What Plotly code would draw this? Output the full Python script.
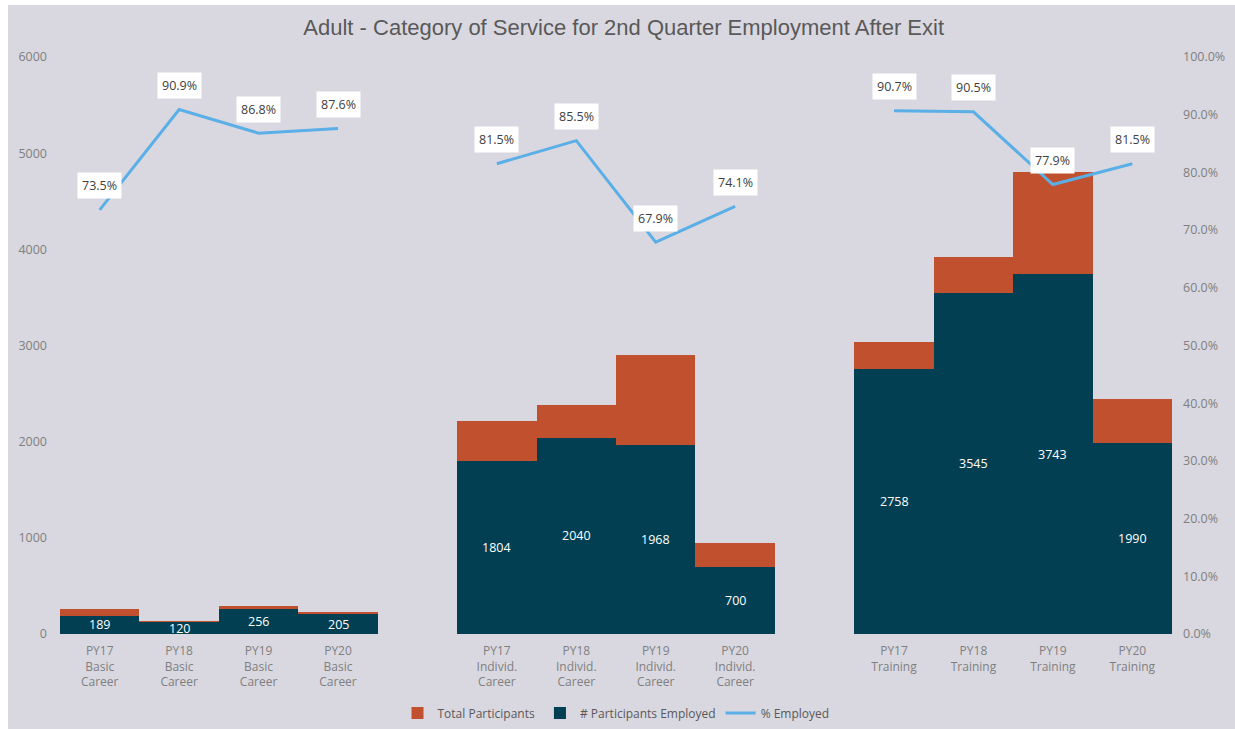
import plotly.graph_objects as go

labels = ["PY17<br>Basic<br>Career", "PY18<br>Basic<br>Career", "PY19<br>Basic<br>Career", "PY20<br>Basic<br>Career",
          "PY17<br>Individ.<br>Career", "PY18<br>Individ.<br>Career", "PY19<br>Individ.<br>Career", "PY20<br>Individ.<br>Career",
          "PY17<br>Training", "PY18<br>Training", "PY19<br>Training", "PY20<br>Training"]
positions = [0, 1, 2, 3, 5, 6, 7, 8, 10, 11, 12, 13]
employed = [189, 120, 256, 205, 1804, 2040, 1968, 700, 2758, 3545, 3743, 1990]
total = [257, 132, 295, 234, 2213, 2386, 2898, 945, 3041, 3917, 4805, 2442]
pct = [0.735, 0.909, 0.868, 0.876, 0.815, 0.855, 0.679, 0.741, 0.907, 0.905, 0.779, 0.815]
pct_labels = ["73.5%", "90.9%", "86.8%", "87.6%", "81.5%", "85.5%", "67.9%", "74.1%", "90.7%", "90.5%", "77.9%", "81.5%"]

ORANGE = "#c0502e"
DARK = "#023f53"
BLUE = "#5aafe6"
BG = "#d9d8e0"
FONT = "Open Sans"

fig = go.Figure()
fig.add_trace(go.Bar(x=positions, y=total, name="Total Participants", marker=dict(color=ORANGE, line=dict(width=0)),
                     width=1.0, hoverinfo="skip"))
fig.add_trace(go.Bar(x=positions, y=employed, name="# Participants Employed", marker=dict(color=DARK, line=dict(width=0)),
                     width=1.0, hoverinfo="skip"))

# line with breaks between groups
lx, ly = [], []
for i, (p, v) in enumerate(zip(positions, pct)):
    if i > 0 and p - positions[i - 1] > 1:
        lx.append(None)
        ly.append(None)
    lx.append(p)
    ly.append(v)
fig.add_trace(go.Scatter(x=lx, y=ly, name="% Employed", mode="lines", line=dict(color=BLUE, width=3),
                         yaxis="y2", connectgaps=False))

annotations = []
for p, e in zip(positions, employed):
    annotations.append(dict(x=p, y=e / 2, xref="x", yref="y", text=str(e), showarrow=False,
                            font=dict(color="white", size=12.5, family=FONT)))
for p, v, t in zip(positions, pct, pct_labels):
    annotations.append(dict(x=p, y=v, xref="x", yref="y2", text=t, showarrow=False, yshift=24,
                            bgcolor="white", borderpad=4,
                            font=dict(color="#404040", size=12.5, family=FONT)))

fig.update_layout(
    width=1235, height=729,
    paper_bgcolor=BG, plot_bgcolor=BG,
    margin=dict(l=60, r=63, t=57, b=95, autoexpand=False),
    barmode="overlay", bargap=0,
    title=dict(text="Adult - Category of Service for 2nd Quarter Employment After Exit", x=0.505, xanchor="center",
               y=0.962, yanchor="middle", font=dict(family="Liberation Sans", size=22, color="#595959")),
    xaxis=dict(tickvals=positions, ticktext=labels, range=[-0.5, 13.5], showgrid=False, zeroline=False,
               showline=False, ticks="", automargin=False,
               tickfont=dict(family=FONT, size=12, color="#7f7f7f"), ticklabelstandoff=8),
    yaxis=dict(range=[0, 6000], tickvals=[0, 1000, 2000, 3000, 4000, 5000, 6000], showgrid=False, zeroline=False,
               showline=False, ticks="", automargin=False,
               tickfont=dict(family=FONT, size=12.5, color="#7f7f7f"), ticklabelstandoff=12),
    yaxis2=dict(range=[0, 1], overlaying="y", side="right", tickformat=".1%", automargin=False,
                tickvals=[0, 0.1, 0.2, 0.3, 0.4, 0.5, 0.6, 0.7, 0.8, 0.9, 1.0], showgrid=False, zeroline=False,
                showline=False, ticks="", tickfont=dict(family=FONT, size=12.5, color="#7f7f7f"), ticklabelstandoff=10),
    legend=dict(orientation="h", x=0.5, xanchor="center", y=-0.137, yanchor="middle",
                font=dict(family=FONT, size=12, color="#595959"), bgcolor="rgba(0,0,0,0)"),
    annotations=annotations,
    shapes=[
        dict(type="rect", xref="paper", yref="paper", x0=-60 / 1112, x1=-52 / 1112, y0=-95 / 577, y1=634 / 577,
             fillcolor="white", line=dict(width=0), layer="below"),
        dict(type="rect", xref="paper", yref="paper", x0=-60 / 1112, x1=1175 / 1112, y0=(634 - 5) / 577, y1=634 / 577,
             fillcolor="white", line=dict(width=0), layer="below"),
    ],
)

fig.write_html("out.html")
